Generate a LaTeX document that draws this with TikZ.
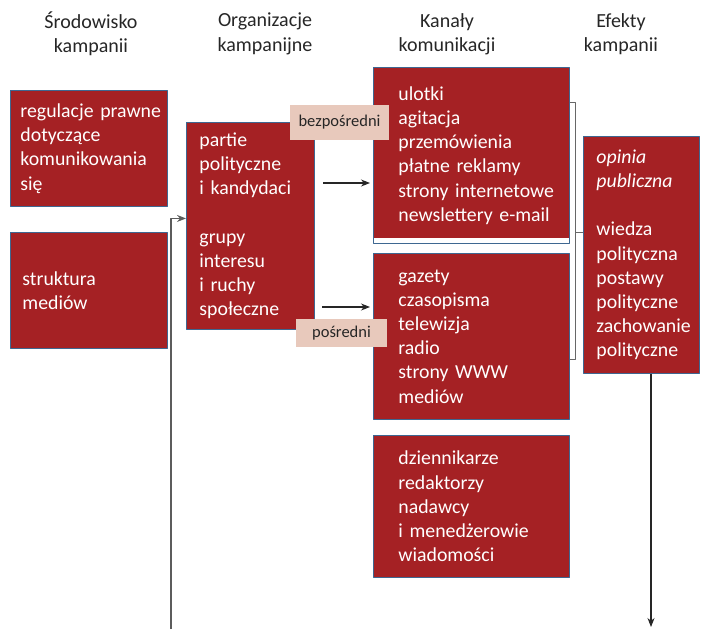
\documentclass[tikz,border=0pt]{standalone}
\usepackage{fontspec}
\setmainfont{Carlito}
\usetikzlibrary{arrows.meta,positioning}
\definecolor{campred}{HTML}{A52124}
\definecolor{boxline}{HTML}{3E6791}
\definecolor{tagfill}{HTML}{E8C9BC}
\definecolor{ink}{HTML}{262626}
\tikzset{
  every picture/.style={line join=round, >={Stealth[length=9pt,width=7pt]}},
  box/.style={draw=boxline, line width=0.9pt, fill=campred, text=white,
    align=left, anchor=north west, inner sep=0pt,
    font=\fontsize{19.8}{24.2}\selectfont},
  head/.style={align=center, text=ink, font=\fontsize{20}{24.4}\selectfont},
  tag/.style={fill=tagfill, text=ink, inner sep=0pt,
    font=\fontsize{16.5}{19}\selectfont},
  link/.style={->, draw=ink, line width=1.1pt},
  bracket/.style={draw=ink!70, line width=0.8pt},
}

\begin{document}
\begin{tikzpicture}[x=1pt, y=-1pt]
\useasboundingbox (0,0) rectangle (706,629);

% column heads
\node[head] (envhead) at (91,34) {Środowisko\\kampanii};
\node[head] (orghead) at (265,34) {Organizacje\\kampanijne};
\node[head] (chanhead) at (447,34) {Kanały\\komunikacji};
\node[head] (effhead) at (621,34) {Efekty\\kampanii};

% campaign environment
\node[box, minimum width=157pt, minimum height=116pt, text width=137pt] (law) at (10,90)
  {\mbox{regulacje prawne}\\dotyczące\\komunikowania\\się};
\node[box, minimum width=157pt, minimum height=116pt, text width=133pt] (media) at (10,232)
  {struktura\\mediów};

% organisations
\node[box, minimum width=128pt, minimum height=207pt, text width=102pt] (org) at (186,122)
  {partie\\polityczne\\i kandydaci\\[24.2pt]grupy\\interesu\\i ruchy\\społeczne};

% channels
\node[box, minimum width=196pt, minimum height=176pt, text width=146pt,
  path picture={\fill[white] ([yshift=5pt]path picture bounding box.south west)
    rectangle (path picture bounding box.south east);}] (direct) at (373,67)
  {ulotki\\agitacja\\przemówienia\\płatne reklamy\\\mbox{strony internetowe}\\\mbox{newslettery e-mail}};
\node[box, minimum width=196pt, minimum height=166pt, text width=146pt] (indirect) at (373,253)
  {gazety\\czasopisma\\telewizja\\radio\\strony WWW\\mediów};
\node[box, minimum width=196pt, minimum height=142pt, text width=146pt] (staff) at (373,435)
  {dziennikarze\\redaktorzy\\nadawcy\\\mbox{i menedżerowie}\\wiadomości};

% effects
\node[box, minimum width=116pt, minimum height=237pt, text width=90pt] (effects) at (583,136)
  {\textit{opinia}\\\textit{publiczna}\\[24.2pt]wiedza\\polityczna\\postawy\\polityczne\\zachowanie\\polityczne};

% channel tags
\node[tag, minimum width=99pt, minimum height=35pt] (dirtag) at (339.5,122.5) {bezpośredni};
\node[tag, minimum width=91pt, minimum height=28pt] (indtag) at (341.5,333) {pośredni};

% arrows into the channels
\coordinate (a1) at (323,183);
\coordinate (a2) at (322,307);
\draw[link, shorten >=3pt] (a1) -- (a1 -| direct.west);
\draw[link, shorten >=3pt] (a2) -- (a2 -| indirect.west);

% bracket joining the channels to the effects
\coordinate (btop) at (575,102);
\coordinate (bbot) at (575,359);
\coordinate (bmid) at (575,232);
\draw[bracket] (btop -| direct.east) -- (btop) -- (bbot) -- (bbot -| indirect.east);
\draw[bracket] (bmid) -- (bmid -| effects.west);

% feedback and outcome
\coordinate (loop) at (171,629);
\draw[link, draw=ink!75] (loop) |- ([yshift=7.5pt]org.west);
\coordinate (out) at (651,627);
\draw[link] (out |- effects.south) -- (out);
\end{tikzpicture}
\end{document}
